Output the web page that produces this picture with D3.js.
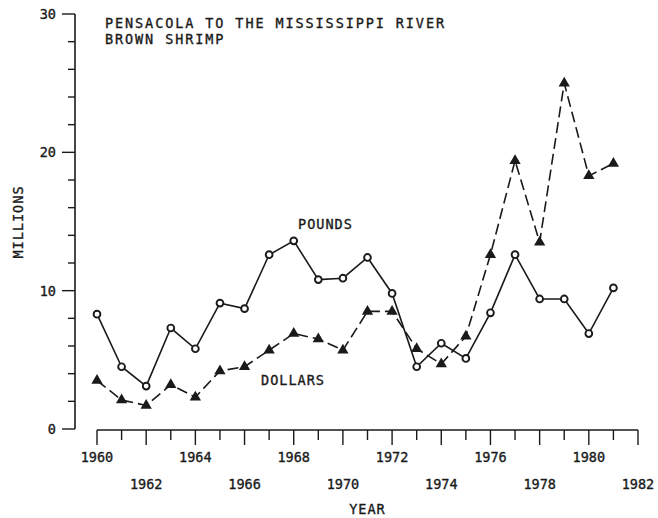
<!DOCTYPE html>
<html>
<head>
<meta charset="utf-8">
<script src="https://cdn.jsdelivr.net/npm/d3@7"></script>
<style>
  body { margin: 0; background: #fff; }
  text { font-family: "DejaVu Sans Mono", monospace; fill: #1a1a1a; stroke: #1a1a1a; stroke-width: 0.35px; }
</style>
</head>
<body>
<svg id="chart" width="658" height="518"></svg>
<script>
// values (millions)
var years = d3.range(1960, 1982);
var pounds = [8.3, 4.5, 3.1, 7.3, 5.8, 9.1, 8.7, 12.6, 13.6, 10.8, 10.9, 12.4,
              9.8, 4.5, 6.2, 5.1, 8.4, 12.6, 9.4, 9.4, 6.9, 10.2];
var dollars = [3.5, 2.1, 1.7, 3.2, 2.3, 4.2, 4.5, 5.7, 6.9, 6.5, 5.7, 8.5,
               8.5, 5.8, 4.7, 6.7, 12.6, 19.4, 13.5, 25.0, 18.3, 19.2];
var yTicks = [0, 10, 20, 30];
var xTicksTop = [1960, 1964, 1968, 1972, 1976, 1980];
var xTicksBottom = [1962, 1966, 1970, 1974, 1978, 1982];
var titleLines = ["PENSACOLA TO THE MISSISSIPPI RIVER", "BROWN SHRIMP"];

var svg = d3.select("#chart");
var ink = "#1a1a1a";

var x = d3.scaleLinear().domain([1960, 1982]).range([97, 638]);
var y = d3.scaleLinear().domain([0, 30]).range([429, 14]);

// y axis - own line, major + minor ticks
var yAxisG = svg.append("g");
yAxisG.append("line")
    .attr("x1", 75).attr("x2", 75)
    .attr("y1", y(0)).attr("y2", y(30))
    .attr("stroke", ink).attr("stroke-width", 1.6);

yAxisG.selectAll(".ymin")
    .data(d3.range(0, 31, 2))
    .enter().append("line")
    .attr("x1", function(d) { return d % 10 === 0 ? 62 : 68; })
    .attr("x2", 75)
    .attr("y1", function(d) { return y(d); })
    .attr("y2", function(d) { return y(d); })
    .attr("stroke", ink).attr("stroke-width", 1.4);

yAxisG.selectAll(".ylab")
    .data(yTicks)
    .enter().append("text")
    .attr("x", 56)
    .attr("y", function(d) { return y(d); })
    .attr("dy", "0.36em")
    .attr("text-anchor", "end")
    .attr("font-size", 13.5)
    .text(function(d) { return d; });

// x axis
var xAxisG = svg.append("g");
xAxisG.append("line")
    .attr("x1", x(1960)).attr("x2", x(1982))
    .attr("y1", 430).attr("y2", 430)
    .attr("stroke", ink).attr("stroke-width", 1.6);

xAxisG.selectAll(".xt")
    .data(d3.range(1960, 1983))
    .enter().append("line")
    .attr("x1", function(d) { return x(d); })
    .attr("x2", function(d) { return x(d); })
    .attr("y1", 430)
    .attr("y2", function(d) { return d % 2 === 0 ? 445 : 440; })
    .attr("stroke", ink).attr("stroke-width", 1.4);

xAxisG.selectAll(".xl1")
    .data(xTicksTop)
    .enter().append("text")
    .attr("x", function(d) { return x(d); })
    .attr("y", 462)
    .attr("text-anchor", "middle")
    .attr("font-size", 13.5)
    .text(function(d) { return d; });

xAxisG.selectAll(".xl2")
    .data(xTicksBottom)
    .enter().append("text")
    .attr("x", function(d) { return x(d); })
    .attr("y", 489)
    .attr("text-anchor", "middle")
    .attr("font-size", 13.5)
    .text(function(d) { return d; });

// axis titles
svg.append("text")
    .attr("x", x(1971)).attr("y", 514)
    .attr("text-anchor", "middle")
    .attr("font-size", 13.5)
    .attr("letter-spacing", 1)
    .text("YEAR");

svg.append("text")
    .attr("transform", "translate(23,222) rotate(-90)")
    .attr("text-anchor", "middle")
    .attr("font-size", 13.5)
    .attr("letter-spacing", 1)
    .text("MILLIONS");

// title
svg.selectAll(".title")
    .data(titleLines)
    .enter().append("text")
    .attr("x", 105)
    .attr("y", function(d, i) { return 28 + i * 16; })
    .attr("font-size", 13.5)
    .attr("letter-spacing", 1.9)
    .text(function(d) { return d; });

// series lines
var line = d3.line()
    .x(function(d, i) { return x(years[i]); })
    .y(function(d) { return y(d); });

svg.append("path")
    .datum(pounds)
    .attr("d", line)
    .attr("fill", "none")
    .attr("stroke", ink)
    .attr("stroke-width", 1.6);

svg.append("path")
    .datum(dollars)
    .attr("d", line)
    .attr("fill", "none")
    .attr("stroke", ink)
    .attr("stroke-width", 1.6)
    .attr("stroke-dasharray", "11,5");

// markers
svg.selectAll(".pt")
    .data(pounds)
    .enter().append("circle")
    .attr("cx", function(d, i) { return x(years[i]); })
    .attr("cy", function(d) { return y(d); })
    .attr("r", 3.4)
    .attr("fill", "#fff")
    .attr("stroke", ink)
    .attr("stroke-width", 1.9);

var tri = d3.symbol().type(d3.symbolTriangle).size(55);
svg.selectAll(".dt")
    .data(dollars)
    .enter().append("path")
    .attr("transform", function(d, i) { return "translate(" + x(years[i]) + "," + y(d) + ")"; })
    .attr("d", tri)
    .attr("fill", ink);

// series labels
svg.append("text")
    .attr("x", 298).attr("y", 229)
    .attr("font-size", 13.5)
    .attr("letter-spacing", 1)
    .text("POUNDS");

svg.append("text")
    .attr("x", 261).attr("y", 385)
    .attr("font-size", 13.5)
    .attr("letter-spacing", 1)
    .text("DOLLARS");
</script>
</body>
</html>
